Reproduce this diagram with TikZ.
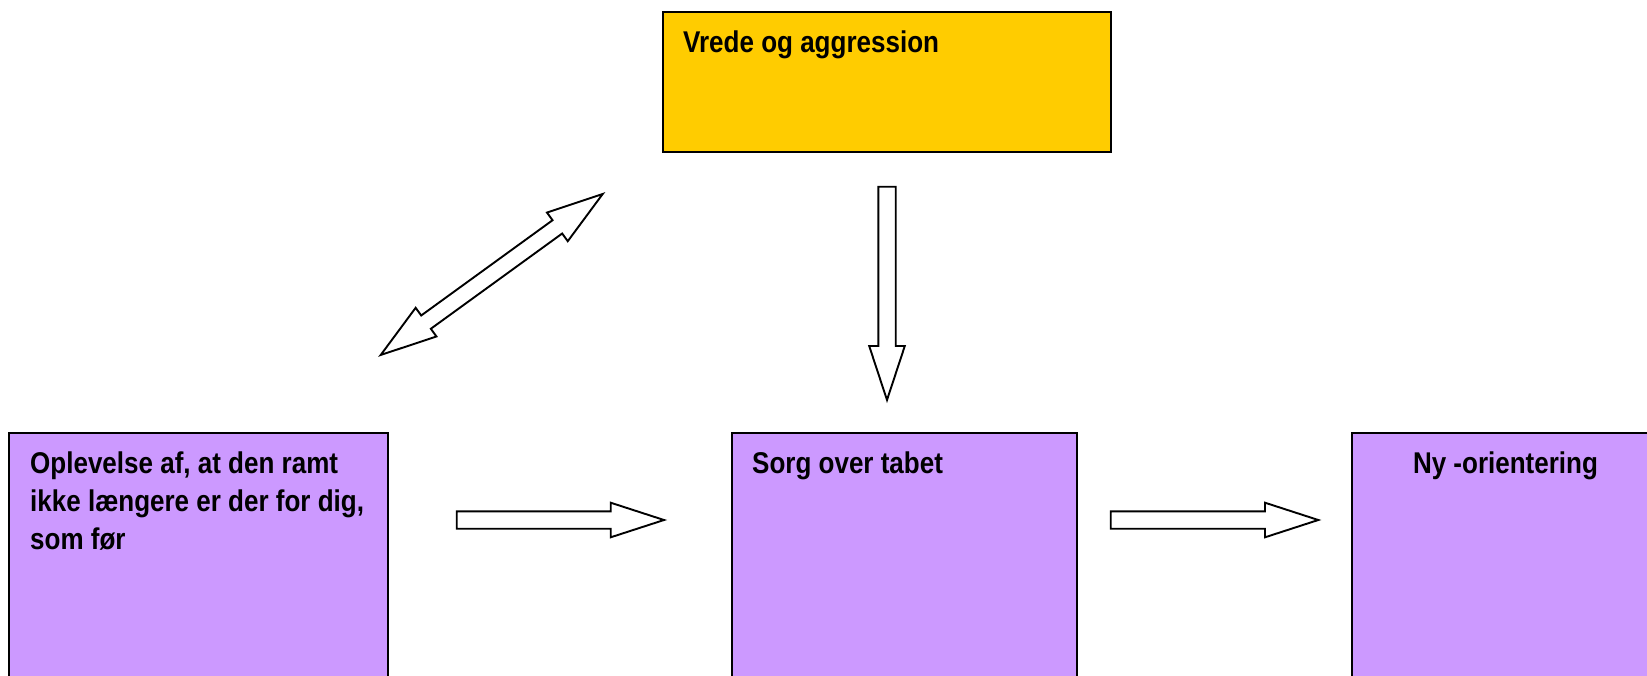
\documentclass[tikz,border=0pt]{standalone}
\usepackage{fontspec}
\setmainfont[FakeStretch=0.867]{Liberation Sans}
\usetikzlibrary{calc}
\definecolor{boxyellow}{HTML}{FFCC00}
\definecolor{boxpurple}{HTML}{CC99FF}
\tikzset{
  box/.style={draw=black, line width=2pt, anchor=north west, inner sep=0pt, outer sep=0pt},
  ybox/.style={box, fill=boxyellow},
  pbox/.style={box, fill=boxpurple},
  lbl/.style={anchor=base west, inner sep=0pt, font=\fontsize{30}{38.3}\selectfont\bfseries, align=left},
  blockarrow/.style={draw=black, fill=white, line width=1.9pt, line join=miter},
}
\newcommand\blkarrow[5]{% #1 tail, #2 tip, #3 shaft half width, #4 head half width, #5 head length
  \coordinate (#2-hb) at ($(#2)!#5!(#1)$);
  \draw[blockarrow] ($(#1)!#3!90:(#2)$) -- ($(#2-hb)!#3!90:(#2)$) -- ($(#2-hb)!#4!90:(#2)$) -- (#2)
    -- ($(#2-hb)!#4!-90:(#2)$) -- ($(#2-hb)!#3!-90:(#2)$) -- ($(#1)!#3!-90:(#2)$) -- cycle;
}
\newcommand\dblarrow[5]{% #1 tip A, #2 tip B
  \coordinate (#1-hb) at ($(#1)!#5!(#2)$);
  \coordinate (#2-hb) at ($(#2)!#5!(#1)$);
  \draw[blockarrow] (#1) -- ($(#1-hb)!#4!90:(#2)$) -- ($(#1-hb)!#3!90:(#2)$) -- ($(#2-hb)!#3!90:(#2)$)
    -- ($(#2-hb)!#4!90:(#2)$) -- (#2) -- ($(#2-hb)!#4!-90:(#2)$) -- ($(#2-hb)!#3!-90:(#2)$)
    -- ($(#1-hb)!#3!-90:(#2)$) -- ($(#1-hb)!#4!-90:(#2)$) -- cycle;
}
\begin{document}
\begin{tikzpicture}[x=1pt, y=-1pt]
\useasboundingbox (0,0) rectangle (1647,675);
% boxes
\node[ybox, minimum width=448.3pt, minimum height=140.6pt] (vrede) at (662.7,11.7) {};
\node[pbox, minimum width=379pt, minimum height=280pt] (oplev) at (9.3,432.7) {};
\node[pbox, minimum width=344.4pt, minimum height=280pt] (sorg) at (732.3,432.7) {};
\node[pbox, minimum width=310pt, minimum height=280pt] (ny) at (1351.7,432.7) {};
% texts
\node[lbl] (vredetxt) at (683,52.7) {Vrede og aggression};
\node[lbl] (oplevtxt) at (30,549.6) {Oplevelse af, at den ramt\\ikke længere er der for dig,\\som før};
\node[lbl] (sorgtxt) at (752,473) {Sorg over tabet};
\node[lbl, anchor=base] (nytxt) at (1505.5,473.3) {Ny -orientering};
% arrow end points
\coordinate (a1t) at (456.7,520);
\coordinate (a1h) at (664,520);
\coordinate (a2t) at (1110.7,520);
\coordinate (a2h) at (1318.3,520);
\coordinate (vt) at (887,186.7);
\coordinate (vh) at (887,400);
\coordinate (dA) at (380.7,355);
\coordinate (dB) at (602.7,194);
\blkarrow{a1t}{a1h}{8.7pt}{17.3pt}{53.3pt}
\blkarrow{a2t}{a2h}{8.7pt}{17.3pt}{53.3pt}
\blkarrow{vt}{vh}{8.7pt}{17.8pt}{54pt}
\dblarrow{dA}{dB}{8.2pt}{17.7pt}{56pt}
\end{tikzpicture}
\end{document}
